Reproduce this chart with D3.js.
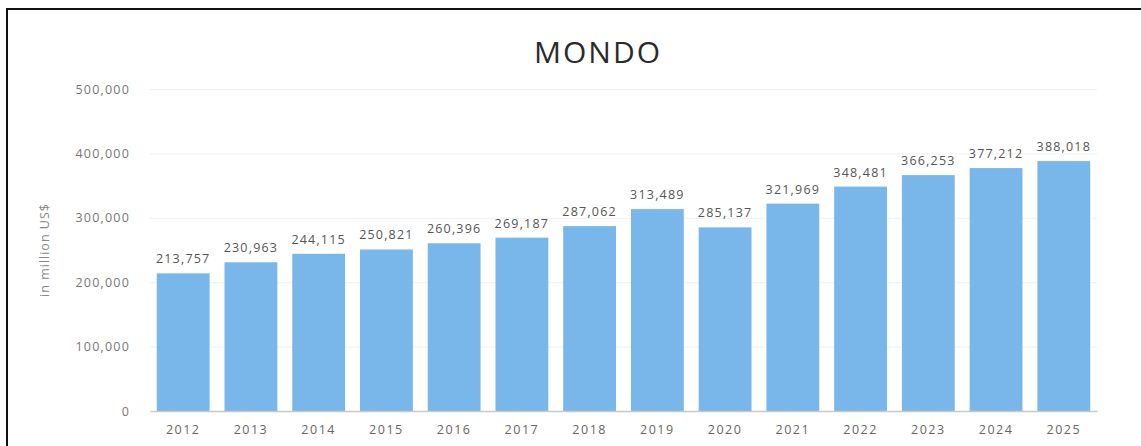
<!DOCTYPE html>
<html>
<head>
<meta charset="utf-8">
<script src="https://cdn.jsdelivr.net/npm/d3@7"></script>
<style>
  html, body { margin: 0; padding: 0; background: #fff; }
  svg { display: block; }
</style>
</head>
<body>
<svg id="chart" width="1141" height="446"></svg>
<script>
// Annual values, million US$
const years = ["2012","2013","2014","2015","2016","2017","2018","2019","2020","2021","2022","2023","2024","2025"];
const values = [213757, 230963, 244115, 250821, 260396, 269187, 287062, 313489, 285137, 321969, 348481, 366253, 377212, 388018];
const yTicks = [0, 100000, 200000, 300000, 400000, 500000];
const chartTitle = "MONDO";
const yTitle = "in million US$";

const svg = d3.select("#chart");
const fmt = d3.format(",");

const x = d3.scaleBand()
  .domain(years)
  .range([150, 1097])
  .paddingInner(0.22)
  .paddingOuter(0.1);

const y = d3.scaleLinear()
  .domain([0, 500000])
  .range([411, 89]);

// outer frame (top and left edges)
svg.append("line").attr("x1", 6).attr("x2", 1141).attr("y1", 9).attr("y2", 9)
  .attr("stroke", "#111").attr("stroke-width", 2);
svg.append("line").attr("x1", 7).attr("x2", 7).attr("y1", 8).attr("y2", 446)
  .attr("stroke", "#111").attr("stroke-width", 2);

// title
svg.append("text")
  .attr("x", 598).attr("y", 63)
  .attr("text-anchor", "middle")
  .attr("font-family", "'Open Sans', sans-serif")
  .attr("font-size", 30)
  .attr("letter-spacing", 2)
  .attr("fill", "#2b2b2b")
  .text(chartTitle);

// gridlines
const yAxis = d3.axisLeft(y)
  .tickValues(yTicks)
  .tickFormat(fmt)
  .tickSize(-(1097 - 150))
  .tickPadding(20);

const gy = svg.append("g")
  .attr("transform", "translate(150,0)")
  .call(yAxis);
gy.select(".domain").remove();
gy.selectAll(".tick line").attr("stroke", "#f0f0f0").attr("stroke-width", 1);
gy.selectAll(".tick text")
  .attr("font-family", "'Open Sans', sans-serif")
  .attr("font-size", 12.5)
  .attr("letter-spacing", 1.2)
  .attr("fill", "#777");

// y-axis title
svg.append("text")
  .attr("transform", "translate(49,250) rotate(-90)")
  .attr("text-anchor", "middle")
  .attr("font-family", "'Open Sans', sans-serif")
  .attr("font-size", 12.5)
  .attr("letter-spacing", 1)
  .attr("fill", "#888")
  .text(yTitle);

// bars
svg.append("g").selectAll("rect")
  .data(years.map((yr, i) => ({ yr, v: values[i] })))
  .join("rect")
  .attr("x", d => x(d.yr))
  .attr("y", d => y(d.v))
  .attr("width", x.bandwidth())
  .attr("height", d => y(0) - y(d.v))
  .attr("fill", "#79b6ea");

// value labels
svg.append("g").selectAll("text")
  .data(years.map((yr, i) => ({ yr, v: values[i] })))
  .join("text")
  .attr("x", d => x(d.yr) + x.bandwidth() / 2)
  .attr("y", d => y(d.v) - 10)
  .attr("text-anchor", "middle")
  .attr("font-family", "'Open Sans', sans-serif")
  .attr("font-size", 12.5)
  .attr("letter-spacing", 1.2)
  .attr("fill", "#555")
  .text(d => fmt(d.v));

// x axis
const xAxis = d3.axisBottom(x).tickSize(0).tickPadding(14);
const gx = svg.append("g")
  .attr("transform", "translate(0,411)")
  .call(xAxis);
gx.select(".domain").attr("stroke", "#c8c8c8").attr("stroke-width", 1.5);
gx.selectAll(".tick text")
  .attr("font-family", "'Open Sans', sans-serif")
  .attr("font-size", 12.5)
  .attr("letter-spacing", 1.5)
  .attr("fill", "#666");
</script>
</body>
</html>
